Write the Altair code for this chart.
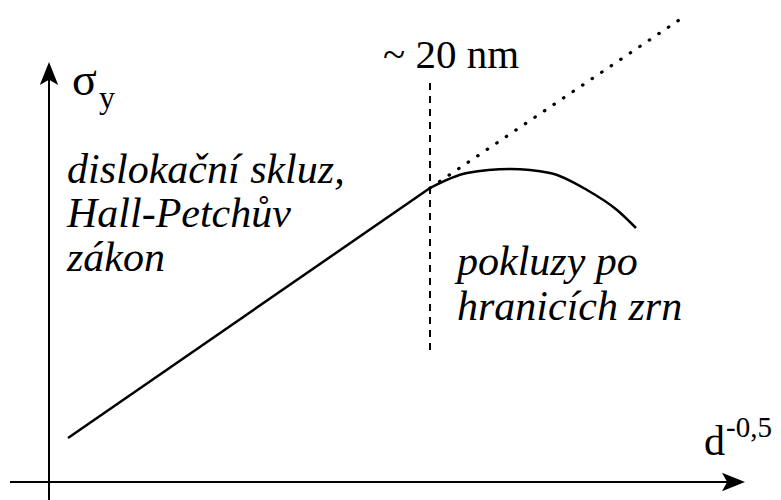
import altair as alt
import pandas as pd

W, H = 781, 500
SERIF = "Liberation Serif"

# Hall-Petch branch (solid) and its extrapolation (dotted); arbitrary d^-0.5 / sigma_y units
hp_x = [68, 430]
hp_y = [62, 312]
extrap_x = [430, 685]
extrap_y = [312, 484]

# grain-boundary sliding branch beyond the critical grain size
gb_x = [430, 467, 510, 550, 587, 617, 636]
gb_y = [312, 327, 331, 327, 310, 290, 272]

# critical grain size (~20 nm) marker
crit_x = 430
crit_span = [150, 418]

# text
crit_label = "~ 20 nm"
y_symbol, y_sub = "σ", "y"
x_symbol, x_sup = "d", "-0,5"
left_lines = ["dislokační skluz,", "Hall-Petchův", "zákon"]
right_lines = ["pokluzy po", "hranicích zrn"]

xs = alt.Scale(domain=[0, W], nice=False, zero=False)
ys = alt.Scale(domain=[0, H], nice=False, zero=False)
X = lambda f: alt.X(f, type="quantitative", scale=xs, axis=None)
Y = lambda f: alt.Y(f, type="quantitative", scale=ys, axis=None)

arrow_head = "M0,-1 L0.8,1 L0,0.55 L-0.8,1 Z"

# axes drawn as rules with arrow heads
y_axis = alt.Chart(pd.DataFrame({"x": [49], "y": [0], "y2": [428]})).mark_rule(
    color="black", strokeWidth=2
).encode(x=X("x"), y=Y("y"), y2="y2")
x_axis = alt.Chart(pd.DataFrame({"x": [10], "x2": [732], "y": [18]})).mark_rule(
    color="black", strokeWidth=2
).encode(x=X("x"), x2="x2", y=Y("y"))
heads = alt.Chart(pd.DataFrame({"x": [49, 733.5], "y": [426.5, 18], "a": [0, 90]})).mark_point(
    shape=arrow_head, filled=True, color="black", size=530, opacity=1
).encode(x=X("x"), y=Y("y"), angle=alt.Angle("a:Q", scale=None))

hp = alt.Chart(pd.DataFrame({"x": hp_x, "y": hp_y})).mark_line(
    color="black", strokeWidth=2.5
).encode(x=X("x"), y=Y("y"))
extrap = alt.Chart(pd.DataFrame({"x": extrap_x, "y": extrap_y})).mark_line(
    color="black", strokeWidth=3.2, strokeDash=[0.5, 11], strokeCap="round"
).encode(x=X("x"), y=Y("y"))
gb = alt.Chart(pd.DataFrame({"x": gb_x, "y": gb_y})).mark_line(
    color="black", strokeWidth=2.5, interpolate="monotone"
).encode(x=X("x"), y=Y("y"))
crit = alt.Chart(pd.DataFrame({"x": [crit_x], "y": [crit_span[0]], "y2": [crit_span[1]]})).mark_rule(
    color="black", strokeWidth=2, strokeDash=[7, 6]
).encode(x=X("x"), y=Y("y"), y2="y2")


def label(text, x, y, size, italic=False):
    return alt.Chart(pd.DataFrame({"x": [x], "y": [y], "t": [text]})).mark_text(
        font=SERIF, fontSize=size, fontStyle="italic" if italic else "normal",
        align="left", baseline="alphabetic", color="black"
    ).encode(x=X("x"), y=Y("y"), text="t:N")


texts = [
    label(crit_label, 383, 432, 41),
    label(y_symbol, 72, 405, 46),
    label(y_sub, 99, 392, 32),
    label(x_symbol, 704, 45, 42),
    label(x_sup, 726, 63, 29),
]
for i, line in enumerate(left_lines):
    texts.append(label(line, 67, 317 - 44 * i, 42, italic=True))
for i, line in enumerate(right_lines):
    texts.append(label(line, 457, 225 - 45 * i, 42, italic=True))

chart = alt.layer(y_axis, x_axis, heads, hp, extrap, gb, crit, *texts).properties(
    width=W, height=H, padding=0, autosize=alt.AutoSizeParams(type="none")
).configure_view(stroke=None)

chart.save("out.html", embed_options={"renderer": "svg", "actions": False})
